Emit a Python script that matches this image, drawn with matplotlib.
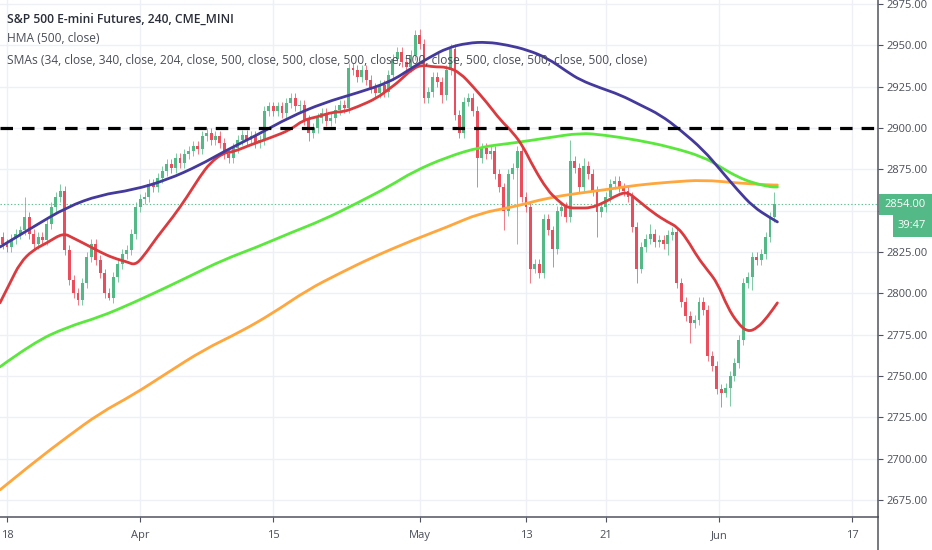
import matplotlib
matplotlib.use("Agg")
import matplotlib.pyplot as plt
from matplotlib import font_manager
from matplotlib.patches import Rectangle, PathPatch
from matplotlib.lines import Line2D
from matplotlib.path import Path

# ---------------- data ----------------
title = "S&P 500 E-mini Futures, 240, CME_MINI"
hma_label = "HMA (500, close)"
sma_label = ("SMAs (34, close, 340, close, 204, close, 500, close, 500, close, "
             "500, close, 500, close, 500, close, 500, close, 500, close)")

tick_days = [0, 10, 20, 31, 39, 45, 53.5, 63.5]
tick_labels = ["18", "Apr", "15", "May", "13", "21", "Jun", "17"]
price_ticks = [2675, 2700, 2725, 2750, 2775, 2800, 2825, 2850, 2875, 2900, 2925, 2950, 2975]

first_open = 2834
closes = [
    2830, 2828, 2833, 2836, 2838, 2846, 2836, 2830, 2834, 2832,
    2842, 2852, 2858, 2862, 2826, 2808, 2800, 2796, 2806, 2822,
    2830, 2820, 2812, 2800, 2797, 2810, 2818, 2824, 2826, 2836,
    2852, 2857, 2858, 2866, 2864, 2870, 2874, 2878, 2876, 2882,
    2879, 2884, 2886, 2889, 2887, 2895, 2897, 2893, 2895, 2891,
    2884, 2882, 2888, 2893, 2896, 2893, 2895, 2891, 2893, 2910,
    2913, 2910, 2913, 2909, 2915, 2918, 2913, 2914, 2905, 2897,
    2900, 2906, 2909, 2904, 2906, 2911, 2914, 2912, 2936, 2935,
    2931, 2935, 2929, 2924, 2921, 2926, 2922, 2932, 2942, 2946,
    2940, 2937, 2944, 2956, 2951, 2918, 2922, 2931, 2928, 2920,
    2935, 2948, 2908, 2897, 2916, 2918, 2910, 2882, 2888, 2884,
    2886, 2872, 2864, 2850, 2872, 2876, 2886, 2858, 2852, 2815,
    2818, 2812, 2845, 2838, 2827, 2850, 2852, 2846, 2880, 2876,
    2864, 2877, 2872, 2862, 2849, 2852, 2858, 2866, 2868, 2864,
    2862, 2858, 2840, 2815, 2828, 2833, 2836, 2831, 2832, 2830,
    2835, 2837, 2806, 2795, 2786, 2782, 2784, 2795, 2790, 2762,
    2756, 2742, 2740, 2743, 2750, 2758, 2772, 2806, 2810, 2822,
    2820, 2824, 2834, 2846, 2854,
]
wick_hi = {5: 2858, 13: 2866, 94: 2960, 128: 2893, 131: 2882, 146: 2842, 174: 2861}
wick_lo = {17: 2793, 24: 2796, 69: 2892, 99: 2915, 107: 2864, 113: 2838, 116: 2830,
           119: 2806, 124: 2816, 134: 2834, 143: 2806, 150: 2823, 155: 2770,
           162: 2731, 164: 2732, 169: 2802}

hma_t = [-0.53, 1.95, 4.51, 6.99, 9.47, 12.03, 14.51, 16.24, 18.80, 21.28, 23.76,
         26.32, 28.80, 30.53, 31.80, 33.08, 34.59, 36.09, 37.59, 39.10, 40.60, 42.11,
         43.08, 44.59, 46.09, 47.59, 49.10, 50.60, 52.33, 53.61, 54.89, 56.09, 57.37, 57.89]
hma_v = [2828.0, 2840.1, 2852.2, 2859.5, 2862.5, 2868.6, 2877.6, 2885.5, 2895.8, 2906.7, 2915.1,
         2921.2, 2927.8, 2936.9, 2942.9, 2948.4, 2951.4, 2952.0, 2950.2, 2947.2, 2942.3, 2933.9,
         2929.0, 2924.2, 2920.0, 2913.9, 2907.9, 2898.8, 2886.7, 2874.6, 2862.5, 2852.2, 2845.6, 2843.2]

red_t = [-0.53, 0.23, 0.98, 1.95, 3.01, 4.21, 4.96, 6.02, 6.99, 7.97, 9.02, 9.62, 10.23,
         11.28, 12.48, 13.53, 14.51, 15.26, 16.24, 16.99, 18.27, 19.77, 21.28, 22.26, 23.31,
         24.51, 25.26, 26.32, 27.82, 28.80, 29.32, 30.53, 31.28, 32.03, 33.08, 34.06, 35.04,
         36.09, 37.07, 38.05, 38.80, 39.55, 40.60, 41.35, 42.11, 43.08, 43.83, 44.81, 45.86,
         46.62, 47.37, 48.57, 49.62, 50.38, 51.13, 51.88, 52.63, 53.38, 54.14, 54.89, 55.64,
         56.39, 57.14, 57.89]
red_v = [2794.2, 2806.3, 2818.4, 2826.2, 2830.5, 2836.5, 2833.5, 2829.2, 2825.0, 2821.4, 2819.0,
         2817.1, 2822.0, 2834.1, 2846.2, 2858.3, 2870.8, 2878.8, 2884.9, 2885.5, 2889.7, 2894.0,
         2898.8, 2904.8, 2906.7, 2909.7, 2909.7, 2912.7, 2918.1, 2924.2, 2927.2, 2936.3, 2938.1,
         2936.9, 2936.9, 2933.3, 2924.8, 2915.1, 2904.8, 2897.0, 2888.5, 2876.4, 2862.5, 2856.5,
         2851.6, 2851.6, 2851.6, 2854.6, 2859.5, 2861.3, 2856.5, 2848.6, 2843.2, 2840.1, 2832.3,
         2822.0, 2814.1, 2806.3, 2791.7, 2782.1, 2776.6, 2779.0, 2785.7, 2794.2]

grn_t = [-0.53, 1.95, 4.51, 6.99, 9.47, 12.03, 13.76, 16.24, 18.80, 21.28, 23.76, 26.32,
         28.80, 30.53, 33.08, 35.56, 38.05, 40.60, 43.08, 44.81, 47.37, 49.85, 52.33, 53.61,
         54.89, 56.09, 57.37, 57.89]
grn_v = [2755.5, 2770.0, 2779.6, 2785.7, 2794.2, 2803.8, 2810.5, 2820.2, 2828.0, 2836.5, 2844.4,
         2854.6, 2865.0, 2873.6, 2882.5, 2888.5, 2890.9, 2894.0, 2897.0, 2895.8, 2892.7, 2888.5,
         2882.5, 2876.4, 2870.4, 2866.7, 2864.3, 2864.3]

org_t = [-0.53, 1.95, 4.51, 6.99, 9.47, 12.03, 14.74, 17.52, 20.00, 22.56, 25.04, 27.52,
         30.53, 33.08, 35.56, 38.05, 40.60, 43.08, 44.81, 47.37, 49.85, 52.33, 54.89, 57.37, 57.89]
org_v = [2681.1, 2697.4, 2713.1, 2727.6, 2738.5, 2751.8, 2765.7, 2776.6, 2788.1, 2802.0, 2812.3,
         2822.0, 2832.3, 2840.1, 2848.6, 2852.2, 2857.7, 2860.7, 2862.5, 2865.5, 2867.3, 2868.6,
         2866.7, 2865.5, 2865.5]

level_line = 2900
last_price = 2854.0
countdown = "39:47"

# ---------------- style ----------------
UP, DN = "#53b987", "#eb4d5c"
C_HMA, C_RED, C_GRN, C_ORG = "#44399c", "#db3a3e", "#5ae83c", "#ffa63d"
TXT = "#4a4e58"
GRID = "#eef0f5"
AXC = "#50535e"
WICK = 3.0

names = {f.name for f in font_manager.fontManager.ttflist}
FONT = "Open Sans" if "Open Sans" in names else "DejaVu Sans"
plt.rcParams["font.family"] = [FONT, "DejaVu Sans"]
plt.rcParams["lines.scale_dashes"] = False

W, H, DPI = 932, 550, 100
fig = plt.figure(figsize=(W / DPI, H / DPI), dpi=DPI, facecolor="white")
AX_R, AX_B = 878, 517
ax = fig.add_axes([0, (H - AX_B) / H, AX_R / W, AX_B / H])
ax.set_facecolor("white")
ax.set_xlim(-0.526, 65.45)
ax.set_ylim(2664.7, 2977.4)

# grid / ticks (the 2850 label sits under the last-price tag, as in TradingView)
ax.set_yticks(price_ticks)
ax.set_yticklabels(["" if p == 2850 else f"{p:.2f}" for p in price_ticks])
ax.set_xticks(tick_days)
ax.set_xticklabels(tick_labels)
ax.grid(True, color=GRID, lw=1.0, zorder=0)
ax.set_axisbelow(True)

for s in ("left", "top"):
    ax.spines[s].set_visible(False)
for s in ("right", "bottom"):
    ax.spines[s].set_color(AXC)
    ax.spines[s].set_linewidth(1.1)
ax.yaxis.tick_right()
ax.tick_params(axis="y", direction="out", length=3.5, width=0.8, color=AXC,
               labelsize=8.0, labelcolor=TXT, pad=2.5)
ax.tick_params(axis="x", direction="out", length=3.5, width=0.8, color=AXC,
               labelsize=8.0, labelcolor=TXT, pad=6)

# candles
n = len(closes)
t = [-1 / 3 + i / 3 for i in range(n)]
opens = [first_open] + closes[:-1]
wx, wlo, whi, wc = [], [], [], []
bx, bh, bb, bc = [], [], [], []
for i in range(n):
    o, c = opens[i], closes[i]
    col = UP if c >= o else DN
    hi = wick_hi.get(i, max(o, c) + WICK)
    lo = wick_lo.get(i, min(o, c) - WICK)
    wx.append(t[i]); wlo.append(lo); whi.append(hi); wc.append(col)
    bx.append(t[i]); bb.append(min(o, c)); bh.append(max(abs(c - o), 0.8)); bc.append(col)
ax.vlines(wx, wlo, whi, colors=wc, lw=0.7, alpha=0.75, zorder=2)
ax.bar(bx, bh, bottom=bb, width=0.22, color=bc, lw=0, zorder=3)


def smooth_line(xs, ys, color, z):
    """Draw the sampled series as a smooth quadratic-Bezier path (no extra data points)."""
    verts = [(xs[0], ys[0])]
    codes = [Path.MOVETO]
    for i in range(1, len(xs) - 1):
        verts += [(xs[i], ys[i]), ((xs[i] + xs[i + 1]) / 2, (ys[i] + ys[i + 1]) / 2)]
        codes += [Path.CURVE3, Path.CURVE3]
    verts.append((xs[-1], ys[-1]))
    codes.append(Path.LINETO)
    ax.add_patch(PathPatch(Path(verts, codes), fill=False, edgecolor=color, lw=2.0,
                           capstyle="round", joinstyle="round", zorder=z))


smooth_line(org_t, org_v, C_ORG, 4)
smooth_line(grn_t, grn_v, C_GRN, 4)
smooth_line(red_t, red_v, C_RED, 5)
smooth_line(hma_t, hma_v, C_HMA, 5)

# levels
ax.axhline(level_line, color="black", lw=2.3, ls=(0, (9.0, 6.5)), zorder=6)
ax.axhline(last_price, color=UP, lw=0.8, ls=(0, (1, 1.5)), alpha=0.9, zorder=1)

# right spine continues through the time scale
fig.add_artist(Line2D([AX_R / W, AX_R / W], [0, (H - AX_B) / H], color=AXC, lw=1.1,
                      transform=fig.transFigure))

# last price tag + countdown
fig.canvas.draw()
ypx = ax.transData.transform((0, last_price))[1]  # pixels from bottom
bh1 = 21
fig.add_artist(Rectangle(((AX_R + 1) / W, (ypx - bh1 / 2) / H), (W - AX_R) / W, bh1 / H,
                         transform=fig.transFigure, color=UP, lw=0, zorder=10))
fig.text((AX_R + 27) / W, ypx / H, f"{last_price:.2f}", color="white", fontsize=8.0,
         ha="center", va="center", zorder=11)
fig.add_artist(Rectangle(((AX_R + 15) / W, (ypx - bh1 / 2 - 22) / H), (W - AX_R - 15) / W, 22 / H,
                         transform=fig.transFigure, color=UP, lw=0, zorder=10))
fig.text((AX_R + 34) / W, (ypx - bh1 / 2 - 11) / H, countdown, color="white", fontsize=8.0,
         ha="center", va="center", zorder=11)

# legend texts
r = fig.canvas.get_renderer()
t1 = fig.text(7 / W, 1 - 19 / H, title, fontsize=9.5, fontweight="semibold",
              color="#2a2e39", ha="left", va="center")
t2 = fig.text(7 / W, 1 - 39 / H, hma_label, fontsize=9.0, color=TXT, ha="left", va="center")
t3 = fig.text(7 / W, 1 - 60 / H, sma_label, fontsize=9.0, color=TXT, ha="left", va="center")
for txt, target in ((t1, 228.0), (t3, 645.0)):
    w = txt.get_window_extent(r).width
    txt.set_fontsize(txt.get_fontsize() * target / w)
t2.set_fontsize(t3.get_fontsize())

fig.savefig("out.png", dpi=DPI, facecolor="white")
